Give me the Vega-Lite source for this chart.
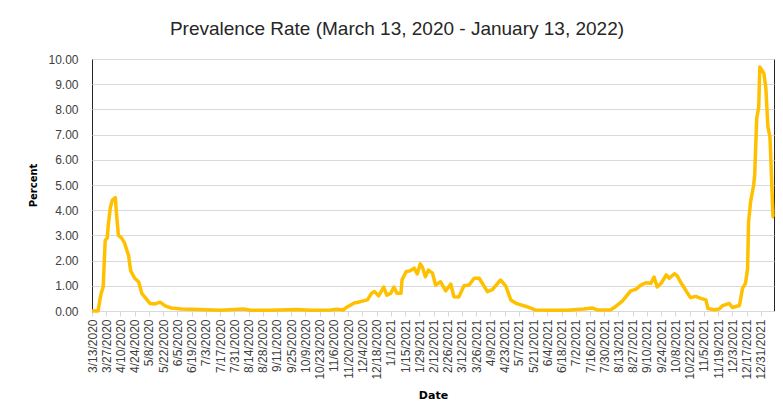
{
  "$schema": "https://vega.github.io/schema/vega-lite/v6.json",
  "width": 682,
  "height": 252,
  "autosize": "none",
  "padding": {"left": 92, "top": 59, "right": 9, "bottom": 104},
  "background": "#ffffff",
  "config": {
    "view": {"stroke": "#262626", "strokeWidth": 1},
    "font": "Liberation Sans"
  },
  "title": {
    "text": "Prevalence Rate (March 13, 2020 - January 13, 2022)",
    "font": "Liberation Sans",
    "fontSize": 19,
    "fontWeight": "normal",
    "color": "#262626",
    "anchor": "middle",
    "frame": "group",
    "dx": -36,
    "dy": 23,
    "baseline": "alphabetic",
    "offset": 22
  },
  "data": {
    "values": [
      {"date": "2020-03-13", "value": 0},
      {"date": "2020-03-19", "value": 0},
      {"date": "2020-03-21", "value": 0.5},
      {"date": "2020-03-22", "value": 0.7},
      {"date": "2020-03-24", "value": 0.95},
      {"date": "2020-03-26", "value": 2.8},
      {"date": "2020-03-28", "value": 2.9},
      {"date": "2020-03-29", "value": 3.4},
      {"date": "2020-03-31", "value": 4.1},
      {"date": "2020-04-02", "value": 4.4},
      {"date": "2020-04-05", "value": 4.5},
      {"date": "2020-04-06", "value": 3.9},
      {"date": "2020-04-08", "value": 3.0},
      {"date": "2020-04-11", "value": 2.9},
      {"date": "2020-04-14", "value": 2.7},
      {"date": "2020-04-18", "value": 2.2},
      {"date": "2020-04-20", "value": 1.6},
      {"date": "2020-04-24", "value": 1.3},
      {"date": "2020-04-28", "value": 1.15},
      {"date": "2020-05-01", "value": 0.7},
      {"date": "2020-05-06", "value": 0.45},
      {"date": "2020-05-09", "value": 0.3},
      {"date": "2020-05-14", "value": 0.28},
      {"date": "2020-05-19", "value": 0.35},
      {"date": "2020-05-24", "value": 0.2},
      {"date": "2020-05-30", "value": 0.12},
      {"date": "2020-06-09", "value": 0.08},
      {"date": "2020-06-19", "value": 0.07},
      {"date": "2020-07-03", "value": 0.05},
      {"date": "2020-07-17", "value": 0.03},
      {"date": "2020-08-09", "value": 0.08},
      {"date": "2020-08-16", "value": 0.03},
      {"date": "2020-09-05", "value": 0.03},
      {"date": "2020-10-01", "value": 0.06},
      {"date": "2020-10-14", "value": 0.03},
      {"date": "2020-11-03", "value": 0.04},
      {"date": "2020-11-09", "value": 0.07},
      {"date": "2020-11-15", "value": 0.04},
      {"date": "2020-11-19", "value": 0.16},
      {"date": "2020-11-26", "value": 0.32},
      {"date": "2020-12-02", "value": 0.37},
      {"date": "2020-12-09", "value": 0.44},
      {"date": "2020-12-13", "value": 0.7},
      {"date": "2020-12-16", "value": 0.77},
      {"date": "2020-12-20", "value": 0.6},
      {"date": "2020-12-25", "value": 0.95},
      {"date": "2020-12-28", "value": 0.63},
      {"date": "2021-01-01", "value": 0.7},
      {"date": "2021-01-04", "value": 0.95},
      {"date": "2021-01-07", "value": 0.7},
      {"date": "2021-01-11", "value": 0.7},
      {"date": "2021-01-12", "value": 1.23},
      {"date": "2021-01-16", "value": 1.56},
      {"date": "2021-01-20", "value": 1.6},
      {"date": "2021-01-24", "value": 1.7},
      {"date": "2021-01-27", "value": 1.47},
      {"date": "2021-01-30", "value": 1.87},
      {"date": "2021-02-01", "value": 1.75},
      {"date": "2021-02-04", "value": 1.36},
      {"date": "2021-02-07", "value": 1.62},
      {"date": "2021-02-11", "value": 1.5},
      {"date": "2021-02-14", "value": 1.03},
      {"date": "2021-02-19", "value": 1.16},
      {"date": "2021-02-24", "value": 0.8},
      {"date": "2021-03-01", "value": 1.07},
      {"date": "2021-03-04", "value": 0.57},
      {"date": "2021-03-09", "value": 0.56},
      {"date": "2021-03-14", "value": 1.0},
      {"date": "2021-03-19", "value": 1.03},
      {"date": "2021-03-24", "value": 1.3},
      {"date": "2021-03-29", "value": 1.3},
      {"date": "2021-04-01", "value": 1.1},
      {"date": "2021-04-06", "value": 0.77},
      {"date": "2021-04-11", "value": 0.85},
      {"date": "2021-04-14", "value": 1.0},
      {"date": "2021-04-19", "value": 1.23},
      {"date": "2021-04-24", "value": 1.0},
      {"date": "2021-04-29", "value": 0.44},
      {"date": "2021-05-05", "value": 0.29},
      {"date": "2021-05-15", "value": 0.17},
      {"date": "2021-05-23", "value": 0.04},
      {"date": "2021-06-07", "value": 0.03},
      {"date": "2021-06-24", "value": 0.03},
      {"date": "2021-07-10", "value": 0.08},
      {"date": "2021-07-18", "value": 0.12},
      {"date": "2021-07-23", "value": 0.04},
      {"date": "2021-08-05", "value": 0.04},
      {"date": "2021-08-10", "value": 0.17},
      {"date": "2021-08-17", "value": 0.4},
      {"date": "2021-08-22", "value": 0.65},
      {"date": "2021-08-25", "value": 0.8},
      {"date": "2021-08-30", "value": 0.86},
      {"date": "2021-09-04", "value": 1.03},
      {"date": "2021-09-09", "value": 1.12},
      {"date": "2021-09-14", "value": 1.1},
      {"date": "2021-09-17", "value": 1.35},
      {"date": "2021-09-20", "value": 0.95},
      {"date": "2021-09-24", "value": 1.1},
      {"date": "2021-09-29", "value": 1.43},
      {"date": "2021-10-02", "value": 1.3},
      {"date": "2021-10-07", "value": 1.48},
      {"date": "2021-10-10", "value": 1.38},
      {"date": "2021-10-13", "value": 1.15},
      {"date": "2021-10-17", "value": 0.9},
      {"date": "2021-10-20", "value": 0.7},
      {"date": "2021-10-23", "value": 0.53},
      {"date": "2021-10-28", "value": 0.58},
      {"date": "2021-11-02", "value": 0.5},
      {"date": "2021-11-07", "value": 0.44},
      {"date": "2021-11-09", "value": 0.1},
      {"date": "2021-11-15", "value": 0.05},
      {"date": "2021-11-20", "value": 0.08},
      {"date": "2021-11-23", "value": 0.2},
      {"date": "2021-11-30", "value": 0.3},
      {"date": "2021-12-03", "value": 0.14},
      {"date": "2021-12-10", "value": 0.22},
      {"date": "2021-12-13", "value": 0.9},
      {"date": "2021-12-16", "value": 1.1},
      {"date": "2021-12-18", "value": 1.69},
      {"date": "2021-12-19", "value": 3.54},
      {"date": "2021-12-21", "value": 4.34},
      {"date": "2021-12-24", "value": 5.0},
      {"date": "2021-12-25", "value": 5.4},
      {"date": "2021-12-27", "value": 7.65},
      {"date": "2021-12-29", "value": 8.1},
      {"date": "2021-12-30", "value": 9.68},
      {"date": "2022-01-01", "value": 9.56},
      {"date": "2022-01-03", "value": 9.43},
      {"date": "2022-01-05", "value": 8.84},
      {"date": "2022-01-07", "value": 7.31},
      {"date": "2022-01-09", "value": 6.92},
      {"date": "2022-01-10", "value": 5.92},
      {"date": "2022-01-12", "value": 3.74},
      {"date": "2022-01-13", "value": 3.74}
    ]
  },
  "mark": {"type": "line", "color": "#FFC000", "strokeWidth": 3.5, "strokeJoin": "round"},
  "encoding": {
    "x": {
      "field": "date",
      "type": "temporal",
      "scale": {
        "type": "utc",
        "domain": [
          {"year": 2020, "month": 3, "date": 13, "utc": true},
          {"year": 2022, "month": 1, "date": 13, "utc": true}
        ]
      },
      "axis": {
        "title": "Date",
        "titleFont": "DejaVu Sans",
        "titleFontSize": 11,
        "titleFontWeight": "bold",
        "titleColor": "#000000",
        "titlePadding": 10,
        "format": "%-m/%-d/%Y",
        "labelAngle": -90,
        "labelFont": "Liberation Sans",
        "labelFontSize": 12,
        "labelColor": "#404040",
        "labelFlush": false,
        "labelOverlap": false,
        "labelPadding": 3,
        "domainColor": "#d9d9d9",
        "tickColor": "#d9d9d9",
        "tickSize": 5,
        "grid": false,
        "values": [
          {"year": 2020, "month": 3, "date": 13, "utc": true},
          {"year": 2020, "month": 3, "date": 27, "utc": true},
          {"year": 2020, "month": 4, "date": 10, "utc": true},
          {"year": 2020, "month": 4, "date": 24, "utc": true},
          {"year": 2020, "month": 5, "date": 8, "utc": true},
          {"year": 2020, "month": 5, "date": 22, "utc": true},
          {"year": 2020, "month": 6, "date": 5, "utc": true},
          {"year": 2020, "month": 6, "date": 19, "utc": true},
          {"year": 2020, "month": 7, "date": 3, "utc": true},
          {"year": 2020, "month": 7, "date": 17, "utc": true},
          {"year": 2020, "month": 7, "date": 31, "utc": true},
          {"year": 2020, "month": 8, "date": 14, "utc": true},
          {"year": 2020, "month": 8, "date": 28, "utc": true},
          {"year": 2020, "month": 9, "date": 11, "utc": true},
          {"year": 2020, "month": 9, "date": 25, "utc": true},
          {"year": 2020, "month": 10, "date": 9, "utc": true},
          {"year": 2020, "month": 10, "date": 23, "utc": true},
          {"year": 2020, "month": 11, "date": 6, "utc": true},
          {"year": 2020, "month": 11, "date": 20, "utc": true},
          {"year": 2020, "month": 12, "date": 4, "utc": true},
          {"year": 2020, "month": 12, "date": 18, "utc": true},
          {"year": 2021, "month": 1, "date": 1, "utc": true},
          {"year": 2021, "month": 1, "date": 15, "utc": true},
          {"year": 2021, "month": 1, "date": 29, "utc": true},
          {"year": 2021, "month": 2, "date": 12, "utc": true},
          {"year": 2021, "month": 2, "date": 26, "utc": true},
          {"year": 2021, "month": 3, "date": 12, "utc": true},
          {"year": 2021, "month": 3, "date": 26, "utc": true},
          {"year": 2021, "month": 4, "date": 9, "utc": true},
          {"year": 2021, "month": 4, "date": 23, "utc": true},
          {"year": 2021, "month": 5, "date": 7, "utc": true},
          {"year": 2021, "month": 5, "date": 21, "utc": true},
          {"year": 2021, "month": 6, "date": 4, "utc": true},
          {"year": 2021, "month": 6, "date": 18, "utc": true},
          {"year": 2021, "month": 7, "date": 2, "utc": true},
          {"year": 2021, "month": 7, "date": 16, "utc": true},
          {"year": 2021, "month": 7, "date": 30, "utc": true},
          {"year": 2021, "month": 8, "date": 13, "utc": true},
          {"year": 2021, "month": 8, "date": 27, "utc": true},
          {"year": 2021, "month": 9, "date": 10, "utc": true},
          {"year": 2021, "month": 9, "date": 24, "utc": true},
          {"year": 2021, "month": 10, "date": 8, "utc": true},
          {"year": 2021, "month": 10, "date": 22, "utc": true},
          {"year": 2021, "month": 11, "date": 5, "utc": true},
          {"year": 2021, "month": 11, "date": 19, "utc": true},
          {"year": 2021, "month": 12, "date": 3, "utc": true},
          {"year": 2021, "month": 12, "date": 17, "utc": true},
          {"year": 2021, "month": 12, "date": 31, "utc": true}
        ]
      }
    },
    "y": {
      "field": "value",
      "type": "quantitative",
      "scale": {"domain": [0, 10], "nice": false},
      "axis": {
        "title": "Percent",
        "titleFont": "DejaVu Sans",
        "titleFontSize": 10,
        "titleFontWeight": "bold",
        "titleColor": "#000000",
        "titlePadding": 9,
        "values": [0, 1, 2, 3, 4, 5, 6, 7, 8, 9, 10],
        "format": ".2f",
        "labelFont": "Liberation Sans",
        "labelFontSize": 12,
        "labelColor": "#404040",
        "labelPadding": 14,
        "ticks": false,
        "domain": false,
        "gridColor": "#d9d9d9",
        "gridWidth": 1
      }
    }
  }
}
